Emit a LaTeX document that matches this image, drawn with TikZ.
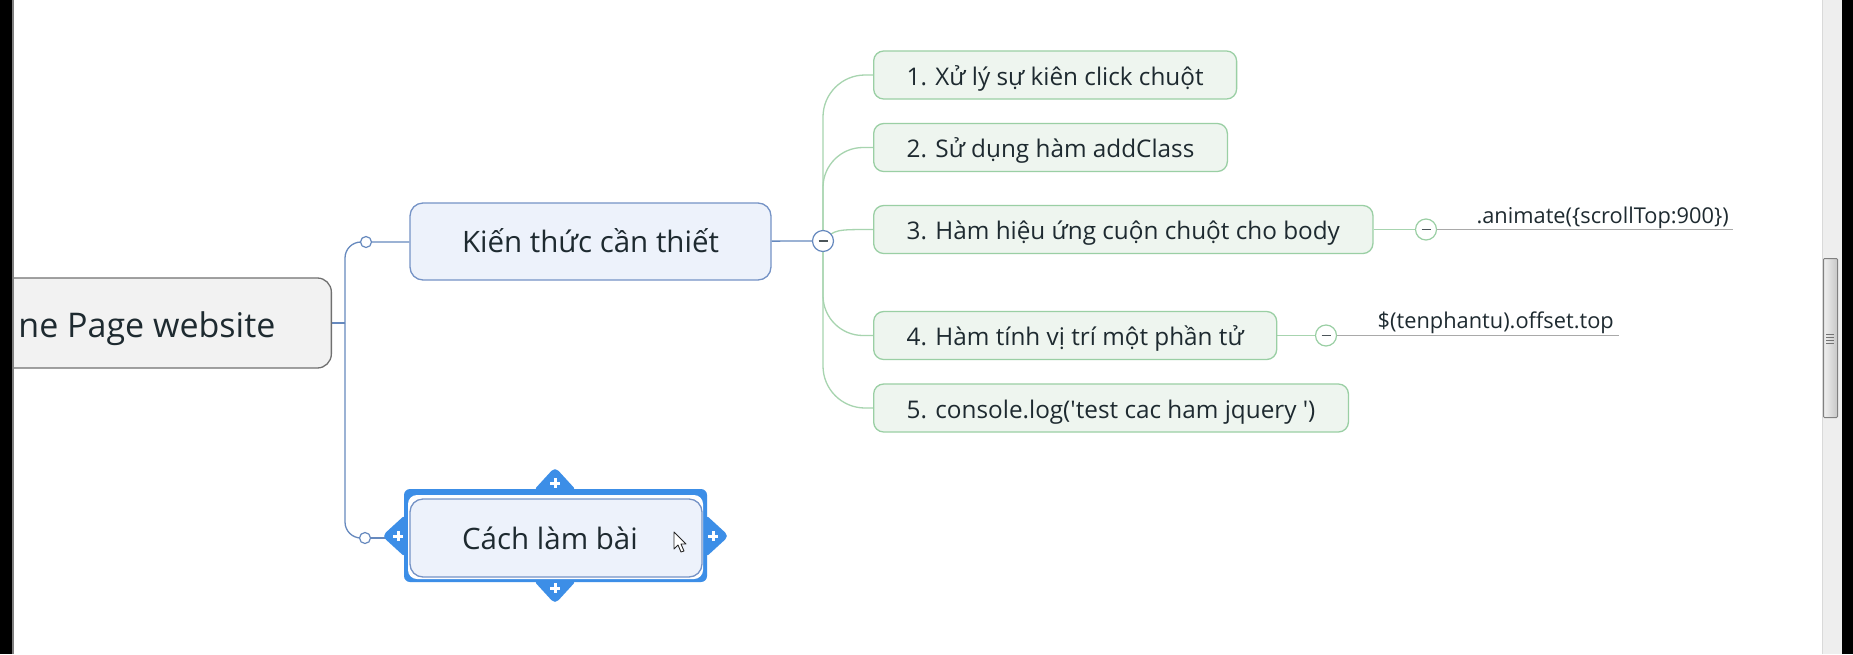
\documentclass[tikz,border=0pt]{standalone}
\usepackage{fontspec}
\setmainfont{Open Sans}
\usetikzlibrary{calc}
\pgfdeclarelayer{bg}
\pgfsetlayers{bg,main}
\definecolor{txt}{HTML}{1E2A30}
\definecolor{bline}{HTML}{6689BE}
\definecolor{bborder}{HTML}{7593C6}
\definecolor{bfill}{HTML}{EDF2FB}
\definecolor{gline}{HTML}{A7D4AF}
\definecolor{gborder}{HTML}{9ACFA4}
\definecolor{gfill}{HTML}{EEF5EF}
\definecolor{rborder}{HTML}{707070}
\definecolor{rfill}{HTML}{F2F2F2}
\definecolor{selblue}{HTML}{3C8EE7}
\definecolor{uline}{HTML}{A9A9A9}
\definecolor{track}{HTML}{EEEEEE}
\begin{document}
\begin{tikzpicture}[x=1pt,y=-1pt,
 every node/.style={text=txt},
 root/.style={draw=rborder, fill=rfill, line width=1.3pt, rounded corners=14pt, minimum height=90pt, inner xsep=0pt, inner ysep=0pt, font=\fontsize{34}{40}\selectfont, text height=34pt, text depth=6pt},
 topic/.style={draw=bborder, fill=bfill, line width=1.3pt, rounded corners=13pt, inner sep=0pt, font=\fontsize{29.5}{35}\selectfont, text height=28pt, text depth=6pt},
 sub/.style={draw=gborder, fill=gfill, line width=1.3pt, rounded corners=10pt, anchor=west, minimum height=48pt, inner xsep=33pt, inner ysep=0pt, font=\fontsize{24.3}{29}\selectfont, text height=26pt, text depth=6pt},
 note/.style={inner sep=0pt, anchor=base east, font=\fontsize{21.8}{26}\selectfont},
 dot/.style={circle, draw=bline, fill=white, line width=1.2pt, minimum size=11pt, inner sep=0pt},
 fold/.style={circle, fill=white, line width=1.2pt, minimum size=21pt, inner sep=0pt, path picture={\draw[line width=1.3pt, color=txt!80] ([xshift=-4.5pt]path picture bounding box.center) -- ([xshift=4.5pt]path picture bounding box.center);}},
 bconn/.style={draw=bline, line width=1.3pt},
 gconn/.style={draw=gline, line width=1.3pt},
 uconn/.style={draw=uline, line width=1.3pt},
 handle/.style={fill=selblue, rounded corners=5pt},
 plus/.style={draw=white, line width=3pt},
]
\useasboundingbox (0,0) rectangle (1853,654);

% scrollbar
\fill[track] (1822,0) rectangle (1842,654);
\draw[black!15, line width=1pt] (1822.5,0) -- (1822.5,654);
\shadedraw[draw=black!50, left color=black!6, right color=black!22, line width=1pt, rounded corners=1pt] (1823.5,258.5) rectangle (1837.5,417.5);
\foreach \yy in {334,337,340,343} \draw[black!55, line width=0.8pt] (1826,\yy) -- (1834,\yy);
\fill[black] (1842,0) rectangle (1853,654);

% selection frame around the selected topic
\fill[selblue, rounded corners=6pt] (404,489) rectangle (707,582);
\fill[white, rounded corners=9pt] (408,495) rectangle (703,579);
\fill[handle] (533,491) -- (555,467) -- (577,491) -- cycle;
\fill[handle] (533,580) -- (555,604) -- (577,580) -- cycle;
\fill[handle] (406,514) -- (382,536) -- (406,558) -- cycle;
\fill[handle] (705,514) -- (729,536) -- (705,558) -- cycle;
\draw[plus] (555,478) -- (555,488) (550,483) -- (560,483);
\draw[plus] (555,583) -- (555,593) (550,588) -- (560,588);
\draw[plus] (398,531) -- (398,541) (393,536) -- (403,536);
\draw[plus] (713,531) -- (713,541) (708,536) -- (718,536);

% nodes
\node[root, anchor=east] (root) at (332,323) {\makebox[345pt][r]{ne Page website\hspace{56pt}}};
\node[topic, minimum width=361pt, minimum height=77pt] (kien) at (590.5,241.5) {Kiến thức cần thiết};
\node[topic, minimum width=292pt, minimum height=78pt] (cach) at (556,538) {Cách làm bài\rule{12pt}{0pt}};
\node[dot] (cK) at (366,242) {};
\node[dot] (cC) at (365,538) {};
\node[fold, draw=bline] (m1) at (823,241) {};

\node[sub] (n1) at (873,75) {1. Xử lý sự kiên click chuột};
\node[sub] (n2) at (873,147.5) {2. Sử dụng hàm addClass};
\node[sub] (n3) at (873,229.5) {3. Hàm hiệu ứng cuộn chuột cho body};
\node[sub] (n4) at (873,335.5) {4. Hàm tính vị trí một phần tử};
\node[sub] (n5) at (873,408) {5. console.log(\textquotesingle test cac ham jquery \textquotesingle)};

\node[fold, draw=gborder] (m3) at (1426,229.5) {};
\node[fold, draw=gborder] (m4) at (1326,335.5) {};
\node[note] (a3) at (1729,223) {.animate(\{scrollTop:900\})};
\node[note] (a4) at (1614,328) {\$(tenphantu).offset.top};

% connectors (behind the nodes)
\begin{pgfonlayer}{bg}
\fill[white] (0,0) rectangle (1853,654);
\coordinate (j) at (345,323);
\draw[bconn] (root.east) -- (j);
\draw[bconn, rounded corners=16pt] (j) |- (cK);
\draw[bconn, rounded corners=16pt] (j) |- (cC);
\draw[bconn] (cK) -- (kien);
\draw[bconn] (cC) -- (cach);
\draw[bconn] (kien) -- (m1);
\draw[gconn, rounded corners=42pt] (m1.center) |- (n1.west);
\draw[gconn, rounded corners=40pt] (m1.center) |- (n2.west);
\draw[gconn] (m1.center) .. controls (835,229.5) .. (n3.west);
\draw[gconn, rounded corners=40pt] (m1.center) |- (n4.west);
\draw[gconn, rounded corners=42pt] (m1.center) |- (n5.west);
\draw[gconn] (n3) -- (m3);
\draw[gconn] (n4) -- (m4);
\draw[uconn] (m3) -- ([xshift=4pt]m3 -| a3.east);
\draw[uconn] (m4) -- ([xshift=5pt]m4 -| a4.east);
\end{pgfonlayer}

% mouse pointer
\draw[fill=white, draw=black!85, line width=0.9pt, line join=round] (674,532) -- (674,549) -- (678,545) -- (681,552) -- (684,551) -- (681,544) -- (686,544) -- cycle;

% window frame at the left
\fill[black] (0,0) rectangle (11.5,654);
\draw[black!50, line width=1.5pt] (13,0) -- (13,654);
\end{tikzpicture}
\end{document}
